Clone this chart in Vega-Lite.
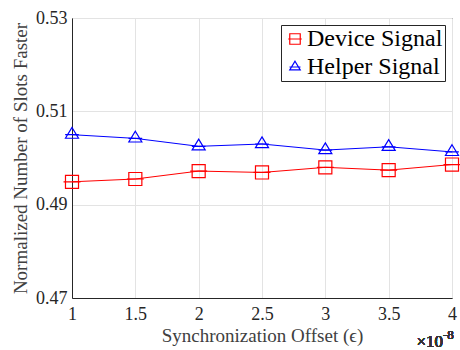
{
  "$schema": "https://vega.github.io/schema/vega-lite/v6.json",
  "width": 380,
  "height": 280,
  "autosize": {"type": "none"},
  "padding": {"left": 72, "top": 18, "right": 8, "bottom": 52},
  "background": "white",
  "config": {
    "font": "Liberation Serif",
    "view": {"stroke": "#262626", "strokeWidth": 1},
    "axis": {
      "labelFont": "Liberation Serif",
      "titleFont": "Liberation Serif",
      "labelFontSize": 18,
      "titleFontSize": 19,
      "titleFontWeight": "normal",
      "labelColor": "#262626",
      "titleColor": "#404040",
      "domainColor": "#262626",
      "gridColor": "#e3e3e3",
      "ticks": false,
      "labelFlush": false
    }
  },
  "data": {
    "values": [
      {"x": 1, "y": 0.4949, "series": "Device Signal"},
      {"x": 1.5, "y": 0.4955, "series": "Device Signal"},
      {"x": 2, "y": 0.4972, "series": "Device Signal"},
      {"x": 2.5, "y": 0.4969, "series": "Device Signal"},
      {"x": 3, "y": 0.498, "series": "Device Signal"},
      {"x": 3.5, "y": 0.4974, "series": "Device Signal"},
      {"x": 4, "y": 0.4986, "series": "Device Signal"},
      {"x": 1, "y": 0.505, "series": "Helper Signal"},
      {"x": 1.5, "y": 0.5042, "series": "Helper Signal"},
      {"x": 2, "y": 0.5025, "series": "Helper Signal"},
      {"x": 2.5, "y": 0.503, "series": "Helper Signal"},
      {"x": 3, "y": 0.5017, "series": "Helper Signal"},
      {"x": 3.5, "y": 0.5024, "series": "Helper Signal"},
      {"x": 4, "y": 0.5013, "series": "Helper Signal"}
    ]
  },
  "layer": [
    {
      "mark": {"type": "line", "strokeWidth": 1},
      "encoding": {
        "x": {
          "field": "x", "type": "quantitative",
          "scale": {"domain": [1, 4], "nice": false},
          "axis": {"values": [1, 1.5, 2, 2.5, 3, 3.5, 4], "format": "~g", "title": "Synchronization Offset (ϵ)", "labelPadding": 7, "titlePadding": 3}
        },
        "y": {
          "field": "y", "type": "quantitative",
          "scale": {"domain": [0.47, 0.53], "nice": false, "zero": false},
          "axis": {"values": [0.47, 0.49, 0.51, 0.53], "format": ".2f", "title": "Normalized Number of Slots Faster", "labelPadding": 5, "titlePadding": 5}
        },
        "color": {
          "field": "series", "type": "nominal",
          "scale": {"domain": ["Device Signal", "Helper Signal"], "range": ["#ff0000", "#0000ff"]}
        }
      }
    },
    {
      "mark": {"type": "point", "filled": false, "strokeWidth": 1.2, "size": 170, "opacity": 1},
      "encoding": {
        "x": {"field": "x", "type": "quantitative"},
        "y": {"field": "y", "type": "quantitative"},
        "color": {
          "field": "series", "type": "nominal",
          "legend": {
            "title": null,
            "orient": "top-right",
            "offset": 7,
            "labelFont": "Liberation Serif",
            "labelFontSize": 24,
            "labelColor": "black",
            "strokeColor": "#262626",
            "fillColor": "white",
            "padding": 2,
            "rowPadding": 4,
            "symbolSize": 110,
            "symbolStrokeWidth": 1.2,
            "labelOffset": 0,
            "symbolOffset": 0
          }
        },
        "shape": {
          "field": "series", "type": "nominal",
          "scale": {"domain": ["Device Signal", "Helper Signal"], "range": ["M-1,-1H1V1H-1Z M-1.3,0H1.3", "M0,-1.1L1,0.55H-1Z M-1.05,0H1.05"]}
        }
      }
    },
    {
      "mark": {"type": "text", "text": "×10", "align": "right", "baseline": "alphabetic", "fontSize": 17, "fontWeight": "normal", "dy": 49, "dx": -9, "color": "#333333", "font": "Liberation Serif"},
      "encoding": {"x": {"datum": 4}, "y": {"datum": 0.47}}
    },
    {
      "mark": {"type": "text", "text": "-8", "align": "left", "baseline": "alphabetic", "fontSize": 13, "fontWeight": "normal", "dy": 41, "dx": -9, "color": "#333333", "font": "Liberation Serif"},
      "encoding": {"x": {"datum": 4}, "y": {"datum": 0.47}}
    }
  ]
}
